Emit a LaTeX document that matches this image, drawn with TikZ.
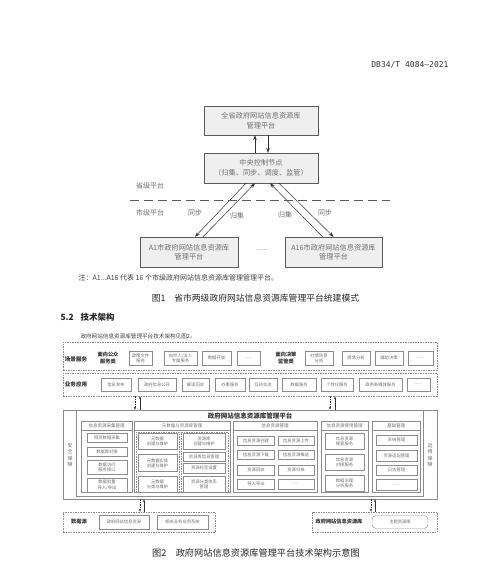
\documentclass[tikz,border=0pt]{standalone}
\usepackage{fontspec}
\setmainfont{Noto Sans CJK SC}
\newfontfamily\docidfont{DejaVu Sans Mono}
\usetikzlibrary{arrows.meta, positioning, calc}
\definecolor{boxfill}{HTML}{EFEFEF}
\definecolor{boxline}{HTML}{5A5A5A}
\definecolor{txtgray}{HTML}{707070}
\definecolor{itemline}{HTML}{8C8C8C}
\newcommand{\fsz}[2]{\fontsize{#1pt}{#2pt}\selectfont}

\begin{document}
\begin{tikzpicture}[
    x=1pt, y=-1pt,
    pbox/.style={draw=boxline, fill=boxfill, align=center, text=txtgray, font=\fsz{7.2}{9.5}, inner sep=0pt},
    lbl/.style={text=txtgray, font=\fsz{7}{8}},
    arr/.style={-{Stealth[length=5pt, width=3.5pt]}, draw=black!80, line width=0.5pt},
    sepline/.style={draw=boxline, line width=0.6pt, dash pattern=on 9pt off 5pt},
    figcap/.style={text=black!85, font=\fsz{8.8}{10}},
    dbox/.style={draw=itemline, dash pattern=on 1.5pt off 1pt, inner sep=0pt},
    itembox/.style={draw=itemline, fill=white, align=center, text=txtgray, font=\fsz{4.3}{5.2}, inner sep=0pt},
    tagtxt/.style={text=black!80, align=center, font=\bfseries\fsz{5.2}{6.2}},
    colhd/.style={draw=itemline, align=center, text=txtgray, font=\fsz{4.5}{5.5}, minimum height=9pt, inner sep=0pt},
    colbd/.style={draw=itemline, minimum height=62pt, inner sep=0pt},
    arrdn/.style={-{Stealth[length=3pt, width=2.2pt]}, draw=black!80, line width=0.4pt, dash pattern=on 1.5pt off 1pt},
    arrup/.style={-{Stealth[length=3pt, width=2.2pt]}, draw=black!80, line width=0.4pt}
]
\useasboundingbox (0,0) rectangle (500,565);

% page head
\node[anchor=east, text=black!80, font=\docidfont\fsz{8}{10}] (docid) at (452,65) {DB34/T 4084—2021};

% figure 1
\node[pbox, minimum width=114pt, minimum height=29pt] (prov) at (261,120.5) {全省政府网站信息资源库\\管理平台};
\node[pbox, minimum width=114pt, minimum height=30pt] (ctrl) at (261,168) {中央控制节点\\（归集、同步、调度、监管）};
\node[pbox, minimum width=98pt, minimum height=30pt] (a1) at (189,252) {A1市政府网站信息资源库\\管理平台};
\node[pbox, minimum width=97pt, minimum height=30pt] (a16) at (333.5,252) {A16市政府网站信息资源库\\管理平台};
\node[lbl] (dots) at (262,250) {......};

\draw[arr] ([xshift=-6pt]ctrl.north) -- ([xshift=-6pt]prov.south);
\draw[arr] ([xshift=7pt]prov.south) -- ([xshift=7pt]ctrl.north);
\draw[arr] ([xshift=-15pt]ctrl.south) -- ([xshift=6pt]a1.north);
\draw[arr] ([xshift=14pt]a1.north) -- ([xshift=-6pt]ctrl.south);
\draw[arr] ([xshift=-11pt]a16.north) -- ([xshift=9pt]ctrl.south);
\draw[arr] ([xshift=18pt]ctrl.south) -- (a16.north);

\coordinate (sepL) at (130,200);
\coordinate (sepR) at (390,200);
\draw[sepline] (sepL) -- (sepR);

\node[lbl] (provlv) at (150,186) {省级平台};
\node[lbl] (citylv) at (150,213) {市级平台};
\node[lbl] (syncL) at (195,213) {同步};
\node[lbl] (collL) at (237,216) {归集};
\node[lbl] (collR) at (285,215) {归集};
\node[lbl] (syncR) at (325,213) {同步};

\node[lbl, anchor=west, text=black!75] (note1) at (75,278) {注：A1...A16 代表 16 个市级政府网站信息资源库管理管理平台。};
\node[figcap] (cap1) at (255.5,298) {图1\hspace{1em}省市两级政府网站信息资源库管理平台统建模式};

% section text
\node[anchor=west, text=black!85, font=\bfseries\fsz{8.5}{10}] (sec) at (57,317) {5.2\hspace{0.8em}技术架构};
\node[anchor=west, text=black!75, font=\fsz{5.6}{7}] (para) at (77,336) {政府网站信息资源库管理平台技术架构见图2。};

% figure 2: scene services
\node[dbox, minimum width=374pt, minimum height=28pt] (scene) at (250,356) {};
\node[tagtxt, font=\bfseries\fsz{5.6}{6.5}] (scenetl) at (76,359) {场景服务};
\node[tagtxt] (pubtl) at (108,358) {面向公众\\服务类};
\node[itembox, minimum width=23pt, minimum height=14pt] (s1) at (140.5,358) {政策文件\\服务};
\node[itembox, minimum width=33pt, minimum height=14pt] (s2) at (180.5,358) {自然人/法人\\专属服务};
\node[itembox, minimum width=29pt, minimum height=14pt] (s3) at (216.5,358) {数据开放};
\node[itembox, minimum width=23pt, minimum height=14pt] (s4) at (248.5,358) {......};
\node[tagtxt] (govtl) at (286,358) {面向决策\\监管类};
\node[itembox, minimum width=28pt, minimum height=14pt] (s5) at (319,358) {社情民意\\分析};
\node[itembox, minimum width=28pt, minimum height=14pt] (s6) at (356,358) {舆情分析};
\node[itembox, minimum width=28pt, minimum height=14pt] (s7) at (389,358) {辅助决策};
\node[itembox, minimum width=25pt, minimum height=14pt] (s8) at (420.5,358) {......};

% business applications
\node[dbox, minimum width=374pt, minimum height=23pt] (biz) at (250,384.5) {};
\node[tagtxt, font=\bfseries\fsz{5.6}{6.5}] (biztl) at (76,384.5) {业务应用};
\node[itembox, minimum width=30pt, minimum height=13pt] (b1) at (116,384.5) {信息发布};
\node[itembox, minimum width=38pt, minimum height=13pt] (b2) at (157,384.5) {政府信息公开};
\node[itembox, minimum width=27pt, minimum height=13pt] (b3) at (195.5,384.5) {解读回应};
\node[itembox, minimum width=30pt, minimum height=13pt] (b4) at (230,384.5) {办事服务};
\node[itembox, minimum width=28pt, minimum height=13pt] (b5) at (263,384.5) {互动交流};
\node[itembox, minimum width=34pt, minimum height=13pt] (b6) at (299,384.5) {数据服务};
\node[itembox, minimum width=32pt, minimum height=13pt] (b7) at (337,384.5) {个性化服务};
\node[itembox, minimum width=43pt, minimum height=13pt] (b8) at (380.5,384.5) {政务新媒体服务};
\node[itembox, minimum width=23pt, minimum height=13pt] (b9) at (418.5,384.5) {......};

% platform
\node[draw=itemline, minimum width=374pt, minimum height=89pt, inner sep=0pt] (platout) at (250,454.5) {};
\node[draw=itemline, minimum width=347pt, minimum height=86pt, inner sep=0pt] (plat) at (249.5,453) {};
\node[tagtxt, font=\bfseries\fsz{6.5}{8}] (plattl) at (250,416) {政府网站信息资源库管理平台};
\node[itembox, draw=none, fill=none, font=\fsz{5}{6.5}] (secu) at (70,455) {安\\全\\保\\障};
\node[itembox, draw=none, fill=none, font=\fsz{5}{6.5}] (ops) at (430,455) {运\\维\\保\\障};

% column: collection
\node[colbd, minimum width=51pt] (c1b) at (106.5,461.5) {};
\node[colhd, minimum width=51pt] (c1h) at (106.5,426) {信息资源采集管理};
\node[itembox, minimum width=40pt, minimum height=9pt] (c1i1) at (107,437.5) {网页数据采集};
\node[itembox, minimum width=40pt, minimum height=9pt] (c1i2) at (107,451.5) {数据库对接};
\node[itembox, minimum width=40pt, minimum height=14pt] (c1i3) at (107,467) {数据访问\\服务接口};
\node[itembox, minimum width=40pt, minimum height=14pt] (c1i4) at (107,485) {数据批量\\导入/导出};

% column: metadata and repository
\node[colbd, minimum width=96pt] (c2b) at (182,461.5) {};
\node[colhd, minimum width=96pt] (c2h) at (182,426) {元数据与资源库管理};
\node[dbox, minimum width=43pt, minimum height=60pt] (c2a) at (157.5,462) {};
\node[dbox, minimum width=47pt, minimum height=60pt] (c2c) at (204.5,462) {};
\node[itembox, minimum width=39pt, minimum height=16pt] (c2a1) at (157.5,441) {元数据\\创建与维护};
\node[itembox, minimum width=39pt, minimum height=17pt] (c2a2) at (157.5,463) {元数据实体\\创建与维护};
\node[itembox, minimum width=39pt, minimum height=16pt] (c2a3) at (157.5,484) {元数据\\分类与维护};
\node[itembox, minimum width=42pt, minimum height=16pt] (c2c1) at (204,441) {资源库\\创建与维护};
\node[itembox, minimum width=42pt, minimum height=9pt] (c2c2) at (204,456.5) {资源库信息管理};
\node[itembox, minimum width=42pt, minimum height=10pt] (c2c3) at (204,468) {资源标签设置};
\node[itembox, minimum width=42pt, minimum height=16pt] (c2c4) at (204,484) {资源分类体系\\管理};

% column: resource management
\node[colbd, minimum width=84pt] (c3b) at (275,461.5) {};
\node[colhd, minimum width=84pt] (c3h) at (275,426) {信息资源管理};
\node[itembox, minimum width=37pt, minimum height=9pt] (c3i1) at (256,440.5) {信息资源创建};
\node[itembox, minimum width=36pt, minimum height=9pt] (c3i2) at (296,440.5) {信息资源上传};
\node[itembox, minimum width=37pt, minimum height=9pt] (c3i3) at (256,454.5) {信息资源下载};
\node[itembox, minimum width=36pt, minimum height=9pt] (c3i4) at (296,454.5) {信息资源推送};
\node[itembox, minimum width=37pt, minimum height=10pt] (c3i5) at (256,470) {资源回收};
\node[itembox, minimum width=36pt, minimum height=10pt] (c3i6) at (296,470) {资源归档};
\node[itembox, minimum width=37pt, minimum height=10pt] (c3i7) at (256,484) {导入导出};
\node[itembox, minimum width=36pt, minimum height=10pt] (c3i8) at (296,484) {......};

% column: resource usage
\node[colbd, minimum width=47pt] (c4b) at (344.5,461.5) {};
\node[colhd, minimum width=47pt] (c4h) at (344.5,426) {信息资源使用管理};
\node[itembox, minimum width=39pt, minimum height=16pt] (c4i1) at (344.5,441) {信息资源\\搜索服务};
\node[itembox, minimum width=39pt, minimum height=16pt] (c4i2) at (344.5,462) {信息资源\\对接服务};
\node[itembox, minimum width=39pt, minimum height=16pt] (c4i3) at (344.5,483.5) {数据治理\\分析服务};

% column: base management
\node[colbd, minimum width=48pt] (c5b) at (396,461.5) {};
\node[colhd, minimum width=48pt] (c5h) at (396,426) {基础管理};
\node[itembox, minimum width=41pt, minimum height=10pt] (c5i1) at (396.5,440) {系统管理};
\node[itembox, minimum width=41pt, minimum height=11pt] (c5i2) at (396.5,455.5) {资源适配管理};
\node[itembox, minimum width=41pt, minimum height=10pt] (c5i3) at (396.5,470) {日志管理};
\node[itembox, minimum width=41pt, minimum height=11pt] (c5i4) at (396.5,485) {......};

% data sources and repository
\node[dbox, minimum width=152pt, minimum height=20pt] (src) at (139,522) {};
\node[tagtxt] (srctl) at (79,522) {数据源};
\node[itembox, minimum width=50pt, minimum height=14pt] (src1) at (124,522) {政府网站信息资源};
\node[itembox, minimum width=51pt, minimum height=14pt] (src2) at (182.5,522) {相关业务应用系统};
\node[dbox, minimum width=125pt, minimum height=20pt] (lib) at (374.5,522) {};
\node[tagtxt] (libtl) at (339,522) {政府网站信息资源库};
\node[itembox, rounded corners=4pt, minimum width=56pt, minimum height=13pt] (topic) at (400,522) {主题资源库};

% links between layers
\draw[arrdn] ([xshift=-115pt]biz.south) -- ([xshift=-115pt]biz.south |- platout.north);
\draw[arrup] ([xshift=-110pt]biz.south |- platout.north) -- ([xshift=-110pt]biz.south);
\draw[arrdn] ([xshift=80pt]biz.south) -- ([xshift=80pt]biz.south |- platout.north);
\draw[arrup] ([xshift=85pt]biz.south |- platout.north) -- ([xshift=85pt]biz.south);
\draw[arrdn] ([xshift=-110pt]platout.south) -- ([xshift=-110pt]platout.south |- src.north);
\draw[arrup] ([xshift=-106pt]platout.south |- src.north) -- ([xshift=-106pt]platout.south);
\draw[arrdn] ([xshift=121pt]platout.south) -- ([xshift=121pt]platout.south |- lib.north);
\draw[arrup] ([xshift=125pt]platout.south |- lib.north) -- ([xshift=125pt]platout.south);

\node[figcap, font=\fsz{9.2}{10}] (cap2) at (256,553) {图2\hspace{1em}政府网站信息资源库管理平台技术架构示意图};

\end{tikzpicture}
\end{document}
